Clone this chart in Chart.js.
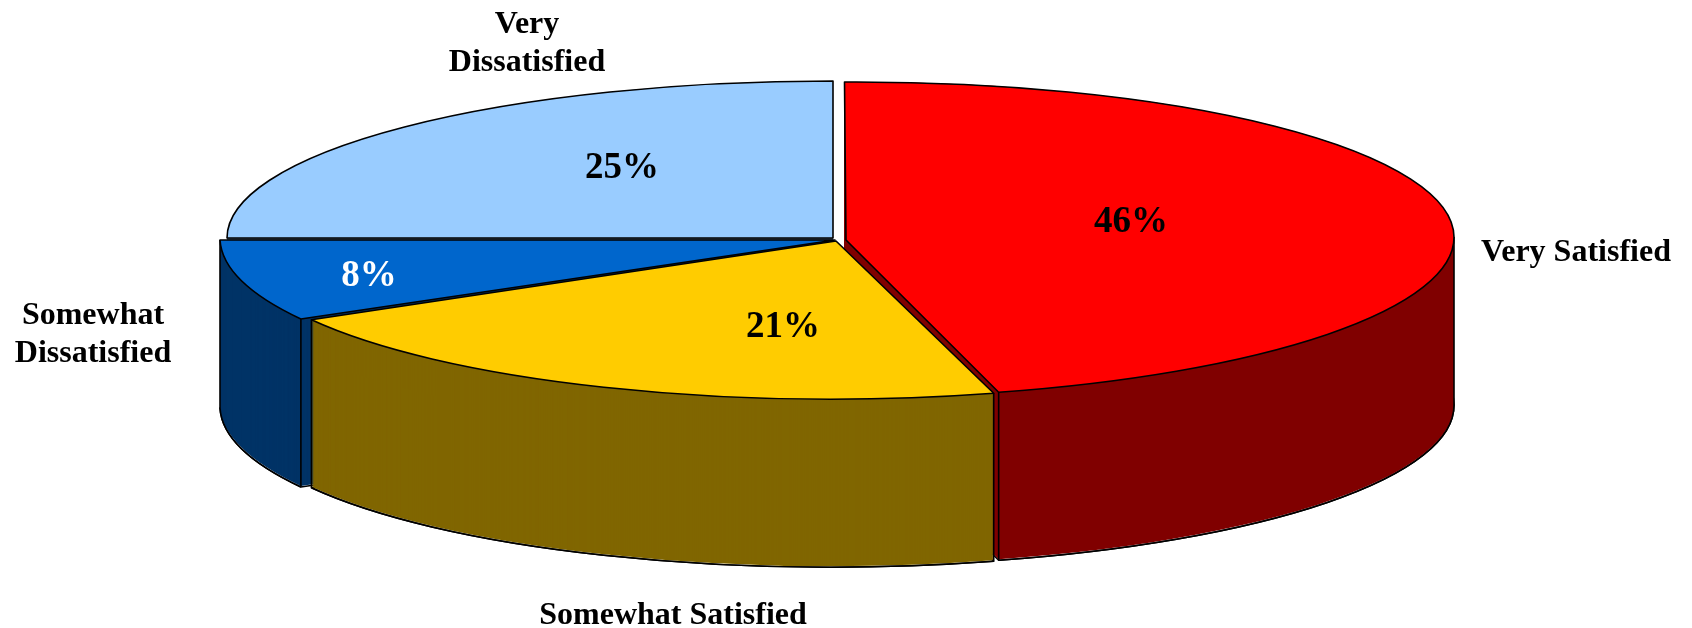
<!DOCTYPE html>
<html>
<head>
<meta charset="utf-8">
<style>html,body{margin:0;padding:0;background:#fff}canvas{display:block}</style>
<script src="https://cdn.jsdelivr.net/npm/chart.js@4/dist/chart.umd.min.js"></script>
</head>
<body>
<canvas id="c" width="1692" height="628"></canvas>
<script>
// Data
const categories = [['Very Satisfied'], ['Somewhat Satisfied'], ['Somewhat', 'Dissatisfied'], ['Very', 'Dissatisfied']];
const percentages = [46, 21, 8, 25];

// Styles
const topColors = ['#FF0000', '#FFCC00', '#0066CC', '#99CCFF'];
const wallColors = ['#800000', '#806600', '#003366', '#4D6680'];
const valueColors = ['#000', '#000', '#fff', '#000'];
const DEPTH = 168;
// Per-slice projection of the unit pie onto the page: a, b, c, d, e, f
const frames = [
  [608, -3, 1.5, 158, 846, 240],
  [603, -3, 8, 158, 836, 241],
  [615, 0, 10, 164, 835, 240],
  [606, 0, 0, 157, 833, 238]
];
const wallOrder = [3, 2, 0, 1];
const topOrder = [3, 2, 1, 0];
const valuePos = [[1131, 222], [783, 327], [369, 276], [622, 168]];
const labelPos = [[1576, 253], [673, 616], [93, 316], [527, 25]];
const LABEL_LH = 38;
const SERIF = '"Liberation Serif", "Times New Roman", serif';

const pie3d = {
  id: 'pie3d',
  beforeDatasetsDraw(chart) {
    const ctx = chart.ctx;
    const arcs = chart.getDatasetMeta(0).data;
    const base = (color) => ({
      backgroundColor: color, borderColor: 'transparent', borderWidth: 0,
      offset: 0, spacing: 0, borderAlign: 'center', circular: true,
      borderRadius: 0, borderDash: [], borderDashOffset: 0, borderJoinStyle: 'round'
    });
    const project = (i, dy) => {
      const el = arcs[i], R = el.outerRadius, f = frames[i];
      ctx.transform(f[0] / R, f[1] / R, f[2] / R, f[3] / R, f[4], f[5] + dy);
      ctx.translate(-el.x, -el.y);
    };
    const fillAt = (i, color, dy) => {
      const el = arcs[i], keep = el.options;
      el.options = base(color);
      ctx.save();
      project(i, dy);
      el.draw(ctx);
      ctx.restore();
      el.options = keep;
    };
    const strokePath = (i, dy, build) => {
      ctx.save();
      ctx.save();
      project(i, dy);
      ctx.beginPath();
      build(arcs[i]);
      ctx.restore();
      ctx.strokeStyle = '#000';
      ctx.lineWidth = 1.6;
      ctx.lineJoin = 'round';
      ctx.stroke();
      ctx.restore();
    };
    const wedge = (el) => {
      ctx.moveTo(el.x, el.y);
      ctx.arc(el.x, el.y, el.outerRadius, el.startAngle, el.endAngle);
      ctx.closePath();
    };
    const point = (i, ang) => {
      const f = frames[i], X = Math.cos(ang), Y = Math.sin(ang);
      return [f[4] + f[0] * X + f[2] * Y, f[5] + f[1] * X + f[3] * Y];
    };
    const vertical = (p) => {
      ctx.save();
      ctx.strokeStyle = '#000';
      ctx.lineWidth = 1.6;
      ctx.beginPath();
      ctx.moveTo(p[0], p[1]);
      ctx.lineTo(p[0], p[1] + DEPTH);
      ctx.stroke();
      ctx.restore();
    };

    // Side walls, back to front
    wallOrder.forEach((i) => {
      const el = arcs[i];
      strokePath(i, DEPTH, wedge);
      for (let d = DEPTH - 1; d >= 0; d--) fillAt(i, wallColors[i], d);
      const s = el.startAngle, e = el.endAngle;
      const from = Math.max(s, 0), to = Math.min(e, Math.PI * 1.0);
      if (to > from) {
        strokePath(i, DEPTH, (a) => ctx.arc(a.x, a.y, a.outerRadius, from, to));
        vertical(point(i, from));
        vertical(point(i, to));
      }
    });
    // Top faces
    topOrder.forEach((i) => {
      fillAt(i, topColors[i], 0);
      strokePath(i, 0, wedge);
    });
    return false;
  },
  afterDraw(chart) {
    const ctx = chart.ctx;
    ctx.save();
    ctx.textAlign = 'center';
    ctx.textBaseline = 'middle';
    ctx.font = 'bold 32px ' + SERIF;
    ctx.fillStyle = '#000';
    categories.forEach((lines, i) => {
      lines.forEach((t, k) => ctx.fillText(t, labelPos[i][0], labelPos[i][1] + k * LABEL_LH));
    });
    ctx.font = 'bold 37px ' + SERIF;
    percentages.forEach((v, i) => {
      ctx.fillStyle = valueColors[i];
      ctx.fillText(v + '%', valuePos[i][0], valuePos[i][1]);
    });
    ctx.restore();
  }
};

new Chart(document.getElementById('c'), {
  type: 'pie',
  data: {
    labels: categories,
    datasets: [{ data: percentages, backgroundColor: topColors, borderWidth: 0 }]
  },
  options: {
    responsive: false,
    animation: false,
    devicePixelRatio: 1,
    plugins: { legend: { display: false }, tooltip: { enabled: false } }
  },
  plugins: [pie3d]
});
</script>
</body>
</html>
